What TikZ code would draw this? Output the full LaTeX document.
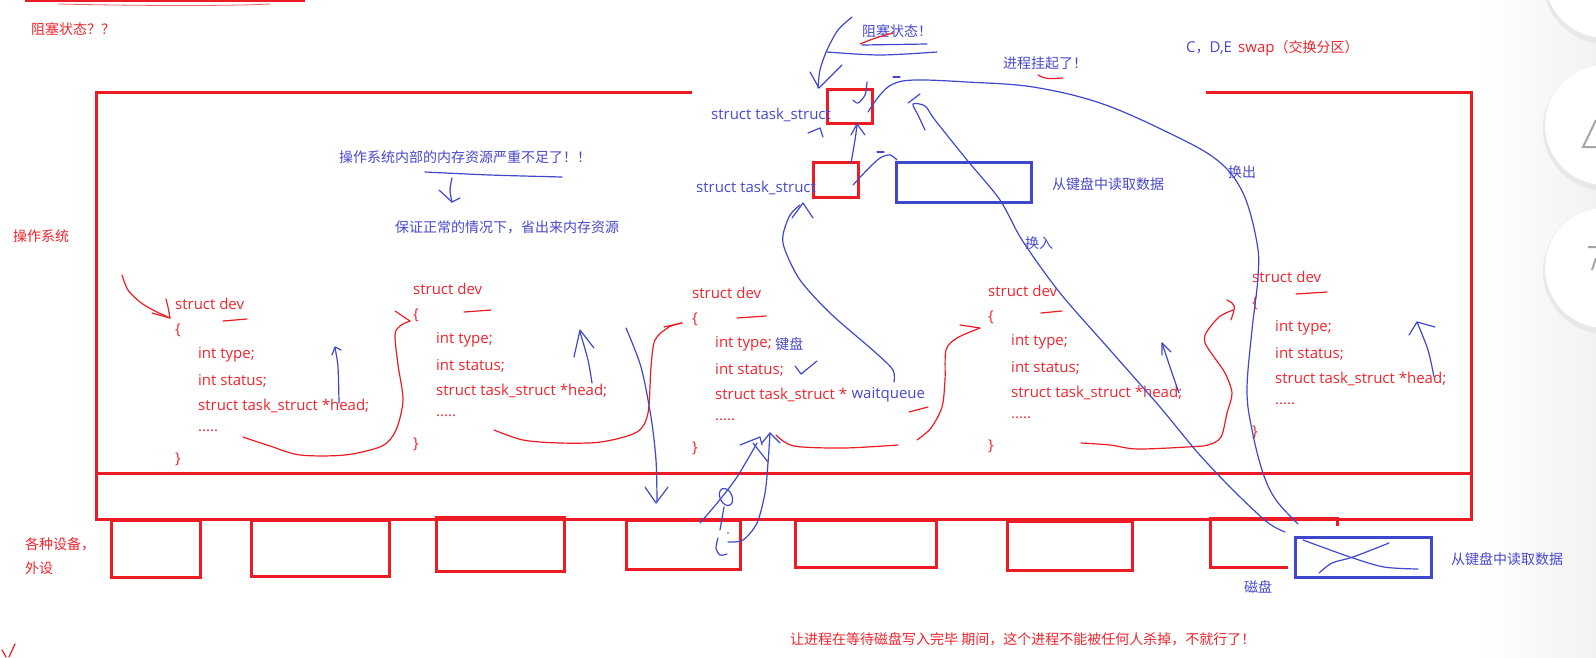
\documentclass[tikz,border=0pt]{standalone}
\usepackage{fontspec}
\setmainfont{Noto Sans CJK SC}
\newfontfamily\latf{Open Sans}
\newcommand{\lat}[1]{{\latf\fontsize{15}{17}\selectfont #1}}
\definecolor{pred}{RGB}{237,28,36}
\definecolor{pblue}{RGB}{63,72,204}
\definecolor{tblue}{RGB}{72,72,206}
\definecolor{tred}{RGB}{240,36,44}
\tikzset{
  redbox/.style={draw=pred, line width=3pt},
  bluebox/.style={draw=pblue, line width=3pt},
  pen/.style={line width=1.2pt, line cap=round, line join=round},
  rpen/.style={pen, draw=pred},
  bpen/.style={pen, draw=pblue},
  txt/.style={font=\fontsize{14}{17}\selectfont, anchor=west, inner sep=0pt},
  ltxt/.style={font=\latf\fontsize{15}{17}\selectfont, anchor=west, inner sep=0pt},
  rtext/.style={txt, text=tred},
  btext/.style={txt, text=tblue},
  rlat/.style={ltxt, text=tred},
  blat/.style={ltxt, text=tblue},
}
\newcommand{\devblock}[3]{%
  \node[rlat] (#1h) at (#2,#3) {struct dev};
  \node[rlat] (#1o) at (#2,#3+26) {\{};
  \node[rlat] (#1a) at (#2+23,#3+51) {int type;};
  \node[rlat] (#1b) at (#2+23,#3+77) {int status;};
  \node[rlat] (#1c) at (#2+23,#3+102) {struct task\_struct *head;};
  \node[rlat] (#1d) at (#2+23,#3+127) {.....};
  \node[rlat] (#1e) at (#2,#3+155) {\}};
}
\begin{document}
\begin{tikzpicture}[x=1pt,y=-1pt]
\useasboundingbox (0,0) rectangle (1596,657);
% right-side UI background
\shade[left color=white, right color=gray!10] (1480,0) rectangle (1596,657);
\foreach \cy/\nm in {-22/c1,125/c2,268/c3}{
  \fill[gray!18] (1606,\cy+3) circle (63);
  \fill[white] (1605,\cy) circle (60);
}
\draw[gray!70, line width=2pt] (1596,120) -- (1583,147) -- (1596,147);
\draw[gray!70, line width=2pt] (1588,247) -- (1596,247) (1592,270) -- (1596,258);

% top-left red line
\draw[pred, line width=2pt] (25,1) -- (305,1);
\draw[pred!70, line width=0.8pt] (58,4) .. controls (150,6) and (230,6) .. (270,4);

% OS box and bus
\draw[redbox] (692,92) -- (96,92) -- (96,473) -- (1471,473) -- (1471,92) -- (1206,92);
\draw[redbox] (96,473) rectangle (1471,519);
\coordinate (bus) at (783,496);
% devices
\draw[redbox] (111,520) rectangle (200,577);
\draw[redbox] (251,520) rectangle (389,576);
\draw[redbox] (436,517) rectangle (564,571);
\draw[redbox] (626,520) rectangle (740,569);
\draw[redbox] (795,520) rectangle (936,567);
\draw[redbox] (1007,521) rectangle (1132,570);
\draw[redbox] (1288,567) -- (1210,567) -- (1210,518) -- (1337,518) -- (1337,526);
% task_struct boxes and blue boxes
\draw[redbox] (827,89) rectangle (872,123);
\draw[redbox] (813,162) rectangle (858,197);
\draw[bluebox] (896,162) rectangle (1031,202);
\draw[bluebox] (1295,537) rectangle (1431,577);

% texts
\node[rtext] (tA) at (31,29) {阻塞状态？？};
\node[rtext] (tB) at (13,236) {操作系统};
\node[btext] (tC) at (862,31) {阻塞状态！};
\node[btext] (tD) at (1003,63) {进程挂起了！};
\node[btext] (tE) at (1186,48) {\lat{C}，\lat{D,E}};
\node[rtext] (tE2) at (1238,48) {\lat{swap}（交换分区）};
\node[blat] (tF) at (711,115) {struct task\_struct};
\node[blat] (tG) at (696,188) {struct task\_struct};
\node[btext] (tH) at (1052,184) {从键盘中读取数据};
\node[btext] (tI) at (1228,172) {换出};
\node[btext] (tJ) at (1025,243) {换入};
\node[btext] (tK) at (339,157) {操作系统内部的内存资源严重不足了！！};
\node[btext] (tL) at (395,227) {保证正常的情况下，省出来内存资源};
\node[rtext] (tM) at (25,544) {各种设备，};
\node[rtext] (tM2) at (25,568) {外设};
\node[btext] (tN) at (1244,587) {磁盘};
\node[btext] (tO) at (1451,559) {从键盘中读取数据};
\node[rtext] (tP) at (790,639) {让进程在等待磁盘写入完毕 期间，这个进程不能被任何人杀掉，不就行了！};

% struct dev blocks
\devblock{s1}{175}{304}
\devblock{s2}{413}{289}
\devblock{s4}{988}{291}
\devblock{s5}{1252}{277}
\node[rlat] (s3h) at (692,293) {struct dev};
\node[rlat] (s3o) at (692,319) {\{};
\node[rlat] (s3a) at (715,344) {int type;};
\node[btext] (s3k) at (s3a.east) {\hspace{3pt}键盘};
\node[rlat] (s3b) at (715,370) {int status;};
\node[rlat] (s3c) at (715,395) {struct task\_struct *};
\node[blat] (s3w) at (s3c.east) {\hspace{4pt}waitqueue};
\node[rlat] (s3d) at (715,420) {.....};
\node[rlat] (s3e) at (692,448) {\}};

% ---------- red strokes ----------
\draw[rpen] plot[smooth] coordinates {(122,275) (128,290) (140,302) (153,310) (170,318)};
\draw[rpen] (166,299) -- (168,307) -- (170,318) -- (152,313);
\draw[rpen] plot[smooth] coordinates {(243,437) (270,446) (300,455) (345,455) (382,446) (396,430) (403,400) (398,365) (395,335) (400,326) (410,321)};
\draw[rpen] (395,311) -- (410,321);
\draw[rpen] plot[smooth] coordinates {(494,430) (523,440) (560,443) (601,442) (637,432) (648,413) (651,367) (655,340) (669,327) (682,323)};
\draw[rpen] (664,327) -- (682,323);
\draw[rpen] plot[smooth] coordinates {(776,435) (794,446) (844,448) (898,445)};
\draw[rpen] plot[smooth] coordinates {(917,440) (931,428) (942,407) (945,380) (946,350) (957,338) (980,328)};
\draw[rpen] (960,325) -- (980,328);
\draw[rpen] plot[smooth] coordinates {(1081,443) (1110,445) (1137,449) (1187,447) (1208,445) (1221,437) (1227,413) (1232,393) (1225,373) (1214,357) (1205,343) (1206,333) (1219,317) (1233,310)};
\draw[rpen] (1227,300) .. controls (1236,305) .. (1231,320);
% red underlines
\draw[rpen] (223,321) -- (247,319);
\draw[rpen] (464,312) -- (491,310);
\draw[rpen] (737,318) -- (766,316);
\draw[rpen] (1041,313) -- (1062,311);
\draw[rpen] (1296,294) -- (1327,292);
\draw[rpen] (909,412) -- (928,407);
\draw[rpen] (860,44) .. controls (875,38) .. (893,33);
\draw[rpen] (1038,75) .. controls (1046,79) .. (1063,78);
\draw[rpen] (2,650) -- (6,657) (9,657) -- (15,644);

% ---------- blue strokes ----------
\draw[bpen] plot[smooth] coordinates {(852,17) (838,30) (827,50) (820,70) (818,88)};
\draw[bpen] (810,72) -- (819,88) -- (842,65);
\draw[bpen] (862,45) -- (927,44);
\draw[bpen] plot[smooth] coordinates {(827,52) (880,55) (937,52)};
\draw[bpen] plot[smooth] coordinates {(853,100) (858,103) (865,95) (867,82)};
% check after int status
\draw[bpen] (795,366) -- (801,374) -- (817,361);
% big arc (swap out)
\draw[bpen] plot[smooth, tension=0.6] coordinates {(868,112) (880,95) (893,84) (915,80) (967,82) (1033,87) (1100,103) (1167,132) (1217,160) (1243,193) (1257,243) (1258,277) (1252,330) (1247,390) (1252,430) (1263,473) (1276,500) (1298,524)};
\draw[bpen] (893,77) -- (900,77);
% swap in
\draw[bpen] plot[smooth, tension=0.5] coordinates {(1285,532) (1267,522) (1233,490) (1198,453) (1160,407) (1110,350) (1060,293) (1022,240) (1000,200) (967,160) (935,120) (925,106) (913,104) (918,115) (925,130)};
\draw[bpen] (908,103) -- (920,94);
% waitqueue to lower task box
\draw[bpen] plot[smooth] coordinates {(894,382) (893,370) (876,353) (830,313) (800,280) (785,250) (783,235) (790,215) (800,205)};
\draw[bpen] (792,218) -- (803,203) -- (813,218);
\draw[bpen] (808,133) -- (820,128) -- (823,137);
% lower box to upper box
\draw[bpen] plot[smooth] coordinates {(851,163) (855,140) (857,125)};
\draw[bpen] (851,135) -- (857,124) -- (865,135);
\draw[bpen] plot[smooth] coordinates {(853,185) (867,170) (880,158) (890,155) (897,160)};
\draw[bpen] (877,152) -- (884,152);
% small arrows in blocks
\draw[bpen] plot[smooth] coordinates {(339,403) (338,367) (335,348)};
\draw[bpen] (332,355) -- (335,347) -- (341,350);
\draw[bpen] plot[smooth] coordinates {(592,383) (588,360) (580,332)};
\draw[bpen] (574,357) -- (580,330) -- (594,348);
\draw[bpen] plot[smooth] coordinates {(1179,393) (1171,370) (1162,343)};
\draw[bpen] (1162,355) -- (1162,343) -- (1171,352);
\draw[bpen] plot[smooth] coordinates {(1434,377) (1428,350) (1417,322)};
\draw[bpen] (1409,335) -- (1417,322) -- (1435,327);
% long down arrow
\draw[bpen] plot[smooth] coordinates {(626,328) (641,367) (651,417) (656,460) (657,502)};
\draw[bpen] (645,487) -- (656,503) -- (668,487);
% scribble from device
\draw[bpen] plot[smooth] coordinates {(700,523) (718,502) (737,477) (757,443)};
\draw[bpen] (740,445) -- (760,437) -- (762,445);
\draw[bpen] (753,443) -- (768,462);
\draw[bpen, rotate around={25:(726,497)}] (726,497) ellipse (6 and 9);
\draw[bpen] (724,507) -- (720,530);
\draw[bpen] plot[smooth] coordinates {(728,542) (743,540) (757,523) (765,493) (768,463) (770,433)};
\draw[bpen] (762,443) -- (770,433) -- (780,443);
\draw[bpen] plot[smooth] coordinates {(718,538) (716,548) (720,555) (727,554)};
\fill[pblue] (728,533) circle (0.8);
% X on disk box
\draw[bpen] plot[smooth] coordinates {(1303,540) (1350,557) (1384,567) (1418,569)};
\draw[bpen] plot[smooth] coordinates {(1319,573) (1332,563) (1353,557) (1389,543)};
% memory note
\draw[bpen] plot[smooth] coordinates {(425,172) (490,175) (562,177)};
\draw[bpen] plot[smooth] coordinates {(452,178) (450,190) (452,202)};
\draw[bpen] (439,190) -- (452,202) -- (460,198);
\end{tikzpicture}
\end{document}
